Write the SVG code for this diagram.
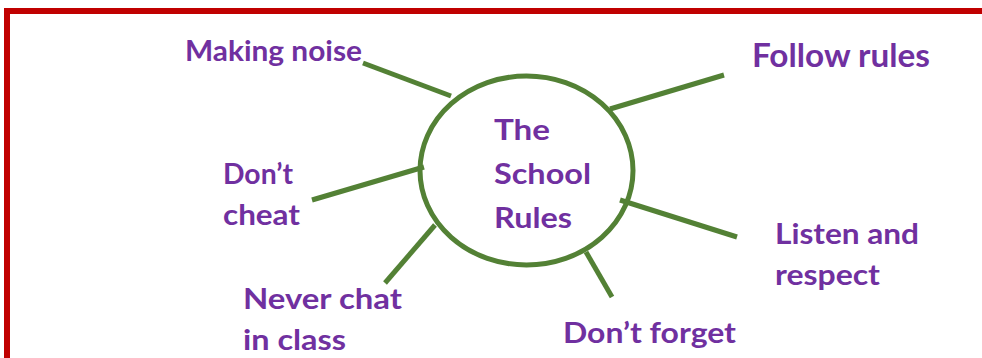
<svg xmlns="http://www.w3.org/2000/svg" width="982" height="358" viewBox="0 0 982 358">
<style>
.t{font-family:"Lato","DejaVu Sans",sans-serif;font-weight:bold;font-size:29px;fill:#7030A0}
.big{font-size:32px}
.c{stroke:#538135;stroke-width:5;fill:none}
</style>
<rect width="982" height="358" fill="#ffffff"/>
<path d="M7,358 V11 H982" fill="none" stroke="#C00000" stroke-width="6"/>
<g id="connectors">
<line class="c" x1="363" y1="63" x2="451" y2="96"/>
<line class="c" x1="610" y1="109" x2="724" y2="75"/>
<line class="c" x1="312" y1="200" x2="424" y2="167"/>
<line class="c" x1="385" y1="283" x2="435" y2="225"/>
<line class="c" x1="620" y1="200" x2="737" y2="237"/>
<line class="c" x1="586" y1="252" x2="612" y2="297"/>
</g>
<g id="center">
<ellipse class="c" cx="526.5" cy="170.5" rx="106.5" ry="94.5"/>
<text class="t" x="494" y="140" textLength="56" lengthAdjust="spacingAndGlyphs">The</text>
<text class="t" x="494" y="184" textLength="97" lengthAdjust="spacingAndGlyphs">School</text>
<text class="t" x="494" y="228" textLength="78" lengthAdjust="spacingAndGlyphs">Rules</text>
</g>
<g id="making-noise"><text class="t" x="185" y="61" textLength="177" lengthAdjust="spacingAndGlyphs">Making noise</text></g>
<g id="follow-rules"><text class="t big" x="752" y="67" textLength="178" lengthAdjust="spacingAndGlyphs">Follow rules</text></g>
<g id="dont-cheat">
<text class="t" x="223" y="184" textLength="70" lengthAdjust="spacingAndGlyphs">Don’t</text>
<text class="t" x="223" y="225" textLength="77" lengthAdjust="spacingAndGlyphs">cheat</text>
</g>
<g id="never-chat">
<text class="t" x="243" y="309" textLength="159" lengthAdjust="spacingAndGlyphs">Never chat</text>
<text class="t" x="243" y="350" textLength="103" lengthAdjust="spacingAndGlyphs">in class</text>
</g>
<g id="listen">
<text class="t" x="775" y="244" textLength="144" lengthAdjust="spacingAndGlyphs">Listen and</text>
<text class="t" x="775" y="285" textLength="105" lengthAdjust="spacingAndGlyphs">respect</text>
</g>
<g id="dont-forget"><text class="t" x="563" y="343" textLength="173" lengthAdjust="spacingAndGlyphs">Don’t forget</text></g>
</svg>
